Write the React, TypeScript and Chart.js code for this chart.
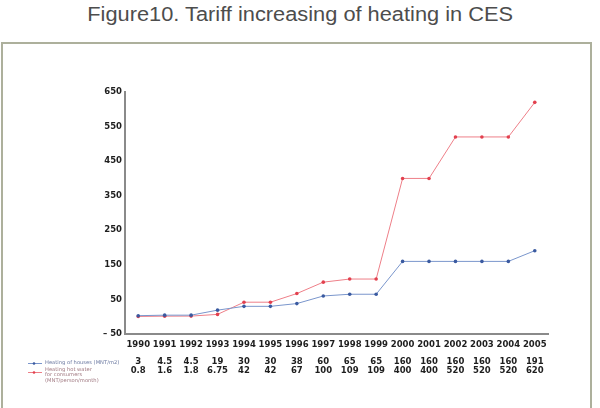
import React, { useEffect, useRef } from "react";
import { Chart, registerables } from "chart.js";

Chart.register(...registerables);

const titleText = "Figure10. Tariff increasing of heating in CES";
const years = ["1990", "1991", "1992", "1993", "1994", "1995", "1996", "1997", "1998", "1999", "2000", "2001", "2002", "2003", "2004", "2005"];
const housesValues = [3, 4.5, 4.5, 19, 30, 30, 38, 60, 65, 65, 160, 160, 160, 160, 160, 191];
const waterValues = [0.8, 1.6, 1.8, 6.75, 42, 42, 67, 100, 109, 109, 400, 400, 520, 520, 520, 620];
const housesName = ["Heating of houses (MNT/m2)"];
const waterName = ["Heating hot water", "for consumers", "(MNT/person/month)"];
const yMin = -50;
const yMax = 650;
const yStep = 100;

const BLUE_LINE = "#7a96cc";
const BLUE_PT = "#3a5aa0";
const RED_LINE = "#ee7f88";
const RED_PT = "#e2404e";
const AXIS = "#8a8a8a";
const TXT = "#1e1e1e";
const FONT = "DejaVu Sans";

const tablePlugin = {
  id: "tablePlugin",
  afterDraw(chart: any) {
    const ctx = chart.ctx;
    const xs = chart.scales.x;
    ctx.save();
    ctx.font = `bold 8.5px "${FONT}"`;
    ctx.fillStyle = TXT;
    ctx.textAlign = "center";
    ctx.textBaseline = "middle";
    for (let i = 0; i < years.length; i++) {
      const x = xs.getPixelForValue(i);
      ctx.fillText(String(housesValues[i]), x, 362);
      ctx.fillText(String(waterValues[i]), x, 371);
    }
    // legend
    const drawKey = (y: number, line: string, pt: string) => {
      ctx.strokeStyle = line;
      ctx.lineWidth = 1;
      ctx.beginPath();
      ctx.moveTo(28, y);
      ctx.lineTo(42, y);
      ctx.stroke();
      ctx.fillStyle = pt;
      ctx.beginPath();
      ctx.arc(34, y, 1.3, 0, Math.PI * 2);
      ctx.fill();
    };
    drawKey(363.5, BLUE_LINE, BLUE_PT);
    drawKey(372.5, RED_LINE, RED_PT);
    ctx.font = `5.2px "${FONT}"`;
    ctx.textAlign = "left";
    ctx.fillStyle = "#6a78a0";
    housesName.forEach((t, k) => ctx.fillText(t, 45, 362.5 + k * 5.5));
    ctx.fillStyle = "#a07880";
    waterName.forEach((t, k) => ctx.fillText(t, 45, 369.5 + k * 5.5));
    ctx.restore();
  },
};

export default function App() {
  const ref = useRef<HTMLCanvasElement | null>(null);

  useEffect(() => {
    if (!ref.current) return;
    const chart = new Chart(ref.current, {
      type: "line",
      data: {
        labels: years,
        datasets: [
          {
            label: housesName[0],
            data: housesValues,
            borderColor: BLUE_LINE,
            backgroundColor: BLUE_PT,
            pointBackgroundColor: BLUE_PT,
            pointBorderColor: BLUE_PT,
            borderWidth: 1,
            pointRadius: 1.8,
            pointBorderWidth: 0,
            tension: 0,
          },
          {
            label: waterName.join(" "),
            data: waterValues,
            borderColor: RED_LINE,
            backgroundColor: RED_PT,
            pointBackgroundColor: RED_PT,
            pointBorderColor: RED_PT,
            borderWidth: 1,
            pointRadius: 1.8,
            pointBorderWidth: 0,
            tension: 0,
          },
        ],
      },
      options: {
        animation: false,
        responsive: false,
        maintainAspectRatio: false,
        layout: { padding: { left: 0, right: 52, top: 92, bottom: 54 } },
        plugins: {
          legend: { display: false },
          title: { display: false },
          tooltip: { enabled: false },
        },
        scales: {
          x: {
            type: "category",
            offset: true,
            grid: { display: false, drawTicks: false },
            border: { display: true, color: AXIS, width: 2 },
            ticks: {
              autoSkip: false,
              maxRotation: 0,
              minRotation: 0,
              padding: 6,
              color: TXT,
              font: { family: FONT, size: 8.5, weight: "bold" },
            },
            afterFit(scale: any) {
              scale.height = 20;
            },
          },
          y: {
            min: yMin,
            max: yMax,
            grid: { display: false, drawTicks: false },
            border: { display: true, color: AXIS, width: 2 },
            ticks: {
              stepSize: yStep,
              padding: 3,
              color: TXT,
              font: { family: FONT, size: 8.5, weight: "bold" },
              callback: (v: any) => (Number(v) < 0 ? "\u2013 " + Math.abs(Number(v)) : String(v)),
            },
            afterFit(scale: any) {
              scale.width = 125;
            },
          },
        },
      },
      plugins: [tablePlugin],
    } as any);
    return () => chart.destroy();
  }, []);

  return (
    <div style={{ position: "fixed", left: 0, top: 0, width: 600, height: 408, background: "#fff", overflow: "hidden" }}>
      <div
        style={{
          position: "absolute",
          left: 0,
          top: 0,
          width: 600,
          textAlign: "center",
          fontFamily: '"Liberation Sans", Arial, sans-serif',
          fontSize: 20,
          lineHeight: "28px",
          color: "#4d4d4d",
          transform: "scaleX(1.09)",
          transformOrigin: "298px 0",
        }}
      >
        {titleText}
      </div>
      <div
        style={{
          position: "absolute",
          left: 1,
          top: 42,
          width: 587,
          height: 420,
          border: "2px solid #adb09c",
        }}
      />
      <canvas ref={ref} width={600} height={408} style={{ position: "absolute", left: 0, top: 0, width: 600, height: 408 }} />
    </div>
  );
}
